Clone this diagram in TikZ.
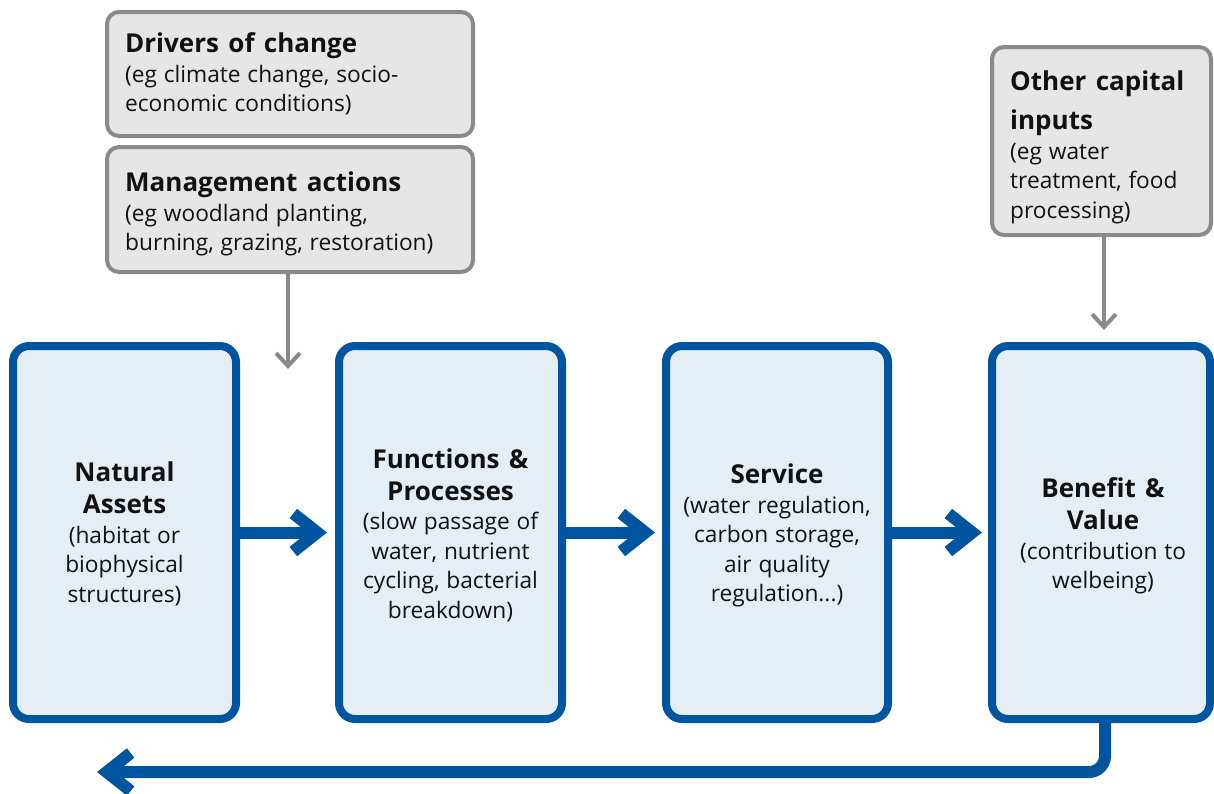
\documentclass[tikz,border=0pt]{standalone}
\usepackage{fontspec}
\setmainfont{Open Sans}
\usetikzlibrary{arrows.meta}
\definecolor{nblue}{RGB}{0,85,160}
\definecolor{nfill}{RGB}{229,237,245}
\definecolor{gfill}{RGB}{230,230,231}
\definecolor{gline}{RGB}{138,138,140}
\definecolor{ink}{RGB}{17,17,17}
\newcommand{\ttl}{\bfseries\fontsize{26}{32}\selectfont\spaceskip=0.36em\relax}
\newcommand{\bdy}{\fontsize{22.7}{29.5}\selectfont\spaceskip=0.3em\relax}
\begin{document}
\begin{tikzpicture}[x=1pt,y=-1pt,
  bluebox/.style={draw=nblue,fill=nfill,line width=8pt,rounded corners=16pt,
    minimum height=373pt,inner sep=0pt},
  bluetext/.style={inner sep=0pt,text width=215pt,align=center,text=ink},
  greybox/.style={draw=gline,fill=gfill,line width=4pt,rounded corners=12pt,inner sep=0pt},
  greytext/.style={inner sep=0pt,align=left,text=ink},
  bluearrow/.style={draw=nblue,line width=12pt,
    -{Straight Barb[length=24pt,width=38pt]}},
  greyarrow/.style={draw=gline,line width=4pt,
    -{Straight Barb[length=13pt,width=24pt]}}]
\useasboundingbox (0,0) rectangle (1214,793);

% blue boxes
\node[bluebox,minimum width=223pt] (n1) at (124.5,532.5) {};
\node[bluebox,minimum width=223pt] (n2) at (450.5,532.5) {};
\node[bluebox,minimum width=222pt] (n3) at (777,532.5) {};
\node[bluebox,minimum width=218pt] (n4) at (1101,532.5) {};
\node[bluetext] (t1) at ([yshift=-1.5pt]n1.center)
  {{\ttl Natural\\Assets\par}{\bdy (habitat or\\biophysical\\structures)\par}};
\node[bluetext] (t2) at ([yshift=-2.5pt]n2.center)
  {{\ttl Functions \&\\Processes\par}{\bdy (slow passage of\\water, nutrient\\cycling, bacterial\\breakdown)\par}};
\node[bluetext] (t3) at ([yshift=-3pt]n3.center)
  {{\ttl Service\par}{\bdy (water regulation,\\carbon storage,\\air quality\\regulation...)\par}};
\node[bluetext] (t4) at ([yshift=-3.5pt,xshift=2pt]n4.center)
  {{\ttl Benefit \&\\Value\par}{\bdy (contribution to\\welbeing)\par}};

% grey boxes
\node[greybox,minimum width=366pt,minimum height=124pt] (drv) at (290,74) {};
\node[greybox,minimum width=366pt,minimum height=125pt] (mgt) at (290,209.5) {};
\node[greybox,minimum width=219pt,minimum height=188pt] (oth) at (1101.5,141) {};
\node[greytext,text width=330pt,anchor=west] (tdrv) at ([xshift=20pt]drv.west)
  {{\ttl Drivers of change\par}{\bdy (eg climate change, socio-\\economic conditions)\par}};
\node[greytext,text width=330pt,anchor=west] (tmgt) at ([xshift=20pt,yshift=-4.5pt]mgt.west)
  {{\ttl Management actions\par}{\bdy (eg woodland planting,\\burning, grazing, restoration)\par}};
\node[greytext,text width=200pt,anchor=west] (toth) at ([xshift=20pt,yshift=-6pt]oth.west)
  {{\ttl\fontsize{26}{39.5}\selectfont Other capital\\inputs\par}{\bdy (eg water\\treatment, food\\processing)\par}};

% horizontal arrows
\draw[bluearrow,shorten >=8pt] (n1.east) -- (n2.west);
\draw[bluearrow,shorten >=7pt] (n3.west -| n2.east) -- (n3.west);
\draw[bluearrow,shorten >=6pt] (n4.west -| n3.east) -- (n4.west);

% grey arrows
\coordinate (mtip) at (288,369);
\coordinate (otip) at (1104,330);
\draw[greyarrow] (mtip |- mgt.south) -- (mtip);
\draw[greyarrow] (otip |- oth.south) -- (otip);

% feedback arrow
\coordinate (btip) at (97,772);
\draw[bluearrow,rounded corners=16pt] ([xshift=4pt]n4.south) |- (btip);
\end{tikzpicture}
\end{document}
